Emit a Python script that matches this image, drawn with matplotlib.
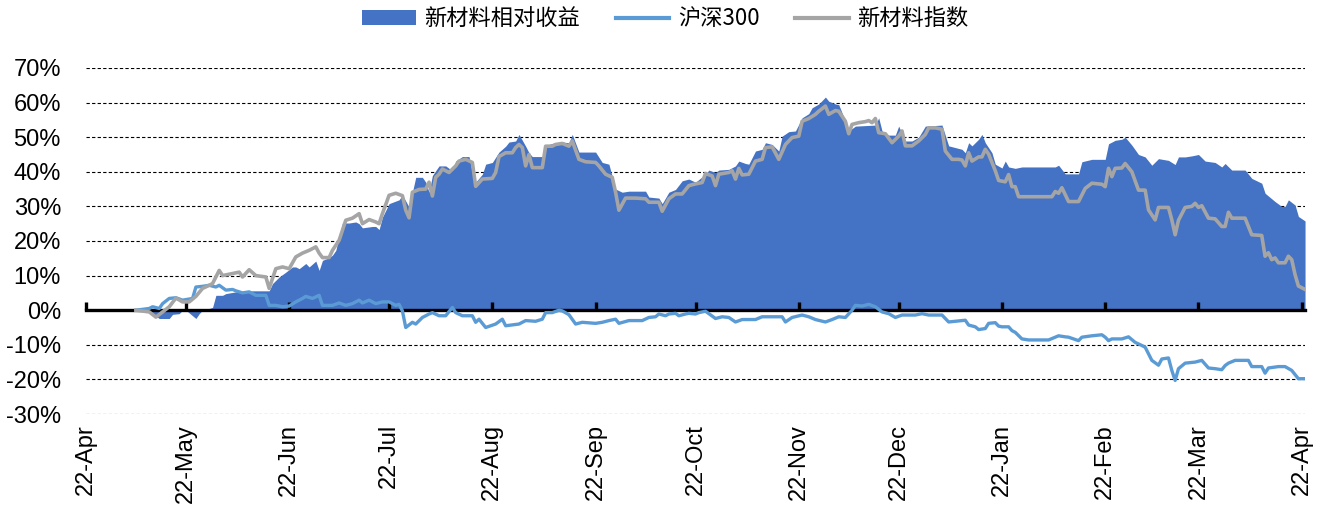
import matplotlib
matplotlib.use('Agg')
import matplotlib.pyplot as plt
import matplotlib.dates as mdates
import matplotlib.ticker as mticker
from matplotlib.patches import Patch
from matplotlib.lines import Line2D
import pandas as pd

plt.rcParams['font.family'] = ['Liberation Sans', 'Noto Sans CJK SC']

# 新材料相对收益 (%)
rel_dates = [
    "2022-05-07", "2022-05-10", "2022-05-12", "2022-05-14", "2022-05-17", "2022-05-18", "2022-05-20",
    "2022-05-21", "2022-05-22", "2022-05-23", "2022-05-25", "2022-05-26", "2022-05-27", "2022-05-29",
    "2022-05-30", "2022-05-31", "2022-06-02", "2022-06-03", "2022-06-06", "2022-06-11", "2022-06-16",
    "2022-06-17", "2022-06-19", "2022-06-21", "2022-06-23", "2022-06-24", "2022-06-25", "2022-06-27",
    "2022-06-28", "2022-06-30", "2022-07-01", "2022-07-02", "2022-07-04", "2022-07-05", "2022-07-06",
    "2022-07-08", "2022-07-10", "2022-07-12", "2022-07-13", "2022-07-14", "2022-07-17", "2022-07-18",
    "2022-07-19", "2022-07-20", "2022-07-22", "2022-07-25", "2022-07-26", "2022-07-28", "2022-07-29",
    "2022-07-30", "2022-08-01", "2022-08-02", "2022-08-03", "2022-08-04", "2022-08-06", "2022-08-08",
    "2022-08-10", "2022-08-11", "2022-08-13", "2022-08-15", "2022-08-16", "2022-08-17", "2022-08-19",
    "2022-08-20", "2022-08-22", "2022-08-24", "2022-08-26", "2022-08-27", "2022-08-29", "2022-08-30",
    "2022-09-01", "2022-09-02", "2022-09-03", "2022-09-06", "2022-09-07", "2022-09-09", "2022-09-12",
    "2022-09-14", "2022-09-15", "2022-09-17", "2022-09-22", "2022-09-24", "2022-09-26", "2022-09-28",
    "2022-09-30", "2022-10-02", "2022-10-07", "2022-10-08", "2022-10-11", "2022-10-12", "2022-10-14",
    "2022-10-16", "2022-10-18", "2022-10-20", "2022-10-22", "2022-10-25", "2022-10-26", "2022-10-28",
    "2022-10-29", "2022-11-01", "2022-11-03", "2022-11-04", "2022-11-06", "2022-11-07", "2022-11-09",
    "2022-11-11", "2022-11-12", "2022-11-14", "2022-11-16", "2022-11-17", "2022-11-19", "2022-11-21",
    "2022-11-23", "2022-11-25", "2022-11-26", "2022-11-28", "2022-11-30", "2022-12-01", "2022-12-03",
    "2022-12-04", "2022-12-06", "2022-12-07", "2022-12-09", "2022-12-15", "2022-12-16", "2022-12-17",
    "2022-12-19", "2022-12-21", "2022-12-22", "2022-12-24", "2022-12-26", "2022-12-28", "2022-12-30",
    "2023-01-04", "2023-01-06", "2023-01-08", "2023-01-10", "2023-01-11", "2023-01-12", "2023-01-13",
    "2023-01-15", "2023-01-16", "2023-01-17", "2023-01-19", "2023-01-20", "2023-01-22", "2023-01-23",
    "2023-01-24", "2023-01-26", "2023-01-28", "2023-02-07", "2023-02-08", "2023-02-10", "2023-02-14",
    "2023-02-15", "2023-02-18", "2023-02-22", "2023-02-23", "2023-02-25", "2023-02-27", "2023-02-28",
    "2023-03-02", "2023-03-04", "2023-03-06", "2023-03-08", "2023-03-10", "2023-03-13", "2023-03-15",
    "2023-03-16", "2023-03-18", "2023-03-20", "2023-03-22", "2023-03-24", "2023-03-27", "2023-03-29",
    "2023-03-30", "2023-04-01", "2023-04-05", "2023-04-07", "2023-04-10", "2023-04-11", "2023-04-14",
    "2023-04-16", "2023-04-17", "2023-04-18", "2023-04-20", "2023-04-21", "2023-04-23",
]
rel_vals = [
    0, 0, -1, -2.4, -2.4, -1.2, -1,
    0, 0, -0.8, -2.4, -1, 0, 0.5,
    0.8, 4.3, 4.3, 4.8, 5.3, 5.6, 5.6,
    7.7, 9.6, 11, 12.5, 12.5, 12, 13.5,
    12.5, 14.2, 11.5, 14.4, 15.2, 15.9, 17.3,
    25.2, 25.2, 25.5, 25, 23.8, 24.2, 24.2,
    23.3, 26.9, 30.8, 31.9, 33.3, 29.8, 34.1,
    38.4, 38.4, 37, 34.1, 38.9, 41.7, 41.7,
    40.3, 43.1, 44.4, 44.4, 39.8, 37, 39.3,
    42.2, 42.7, 45.7, 47.4, 48.6, 48.9, 50.8,
    47.4, 45.5, 44.4, 44.4, 47.6, 48.2, 48.6,
    48.4, 50.8, 45.7, 45.7, 42.7, 42.2, 35,
    34.1, 34.4, 34.4, 32.7, 32.4, 30.8, 34.1,
    34.9, 37.4, 37.9, 37, 39.3, 40.5, 39.8,
    40.5, 40.7, 41.7, 43.1, 42.4, 42.2, 46,
    46.5, 48.4, 47.9, 46, 50.3, 51.6, 51.8,
    55.6, 56.8, 58.5, 59.6, 61.6, 60.4, 59.6,
    59.4, 54.6, 51.8, 53.2, 53.5, 55.6, 51.8,
    50.6, 50.6, 53.2, 48.9, 48.9, 50, 53.2,
    53.5, 47.5, 47, 46.5, 45.5, 48.4, 47.5,
    49.4, 50.8, 48.4, 45.5, 42.2, 41.1, 43.1,
    41.4, 41, 41.4, 41.4, 41.9, 39.4, 39.4,
    42.9, 43.6, 43.6, 48.1, 49.1, 49.4, 50,
    47.7, 45, 44.3, 41.9, 43.8, 43.3, 42.1,
    44.3, 44.3, 44.6, 45, 43.1, 42.7, 41.4,
    42.4, 40.5, 40.5, 38.1, 36.7, 33.8, 31.4,
    30, 30, 31.9, 30.4, 27.1, 25.8,
]

# 沪深300 (%)
hs_dates = [
    "2022-05-07", "2022-05-11", "2022-05-12", "2022-05-14", "2022-05-15", "2022-05-17", "2022-05-19",
    "2022-05-21", "2022-05-24", "2022-05-25", "2022-05-27", "2022-05-29", "2022-05-31", "2022-06-01",
    "2022-06-03", "2022-06-05", "2022-06-06", "2022-06-08", "2022-06-10", "2022-06-12", "2022-06-15",
    "2022-06-16", "2022-06-18", "2022-06-20", "2022-06-22", "2022-06-24", "2022-06-26", "2022-06-27",
    "2022-06-29", "2022-07-01", "2022-07-02", "2022-07-05", "2022-07-07", "2022-07-09", "2022-07-11",
    "2022-07-13", "2022-07-14", "2022-07-16", "2022-07-18", "2022-07-20", "2022-07-22", "2022-07-23",
    "2022-07-24", "2022-07-25", "2022-07-26", "2022-07-27", "2022-07-29", "2022-07-30", "2022-08-01",
    "2022-08-03", "2022-08-04", "2022-08-06", "2022-08-08", "2022-08-10", "2022-08-11", "2022-08-13",
    "2022-08-16", "2022-08-17", "2022-08-18", "2022-08-20", "2022-08-23", "2022-08-25", "2022-08-26",
    "2022-08-30", "2022-09-01", "2022-09-04", "2022-09-06", "2022-09-07", "2022-09-09", "2022-09-11",
    "2022-09-12", "2022-09-14", "2022-09-16", "2022-09-18", "2022-09-22", "2022-09-24", "2022-09-26",
    "2022-09-28", "2022-09-29", "2022-10-02", "2022-10-06", "2022-10-08", "2022-10-10", "2022-10-11",
    "2022-10-13", "2022-10-14", "2022-10-16", "2022-10-17", "2022-10-19", "2022-10-20", "2022-10-22",
    "2022-10-23", "2022-10-25", "2022-10-26", "2022-10-28", "2022-10-30", "2022-11-01", "2022-11-03",
    "2022-11-05", "2022-11-09", "2022-11-11", "2022-11-17", "2022-11-18", "2022-11-20", "2022-11-23",
    "2022-11-25", "2022-11-27", "2022-11-30", "2022-12-02", "2022-12-04", "2022-12-06", "2022-12-08",
    "2022-12-09", "2022-12-11", "2022-12-13", "2022-12-15", "2022-12-17", "2022-12-19", "2022-12-21",
    "2022-12-23", "2022-12-27", "2022-12-29", "2022-12-31", "2023-01-04", "2023-01-06", "2023-01-09",
    "2023-01-11", "2023-01-12", "2023-01-14", "2023-01-15", "2023-01-17", "2023-01-18", "2023-01-20",
    "2023-01-21", "2023-01-22", "2023-01-24", "2023-01-25", "2023-01-26", "2023-01-28", "2023-01-30",
    "2023-02-05", "2023-02-07", "2023-02-08", "2023-02-10", "2023-02-11", "2023-02-14", "2023-02-15",
    "2023-02-18", "2023-02-21", "2023-02-22", "2023-02-23", "2023-02-24", "2023-02-27", "2023-03-01",
    "2023-03-03", "2023-03-05", "2023-03-06", "2023-03-08", "2023-03-10", "2023-03-11", "2023-03-13",
    "2023-03-14", "2023-03-15", "2023-03-16", "2023-03-18", "2023-03-21", "2023-03-23", "2023-03-25",
    "2023-03-27", "2023-03-29", "2023-03-30", "2023-03-31", "2023-04-02", "2023-04-06", "2023-04-07",
    "2023-04-10", "2023-04-11", "2023-04-12", "2023-04-15", "2023-04-17", "2023-04-19", "2023-04-21",
    "2023-04-23",
]
hs_vals = [
    0, 0.5, 1, 0.5, 1.9, 3.4, 3.6,
    2.9, 3.4, 6.7, 6.9, 7.2, 6.7, 7.2,
    5.8, 6, 5.6, 5, 5.3, 4.3, 4.3,
    1.4, 1.4, 1, 1.2, 2.4, 3.4, 4,
    3.4, 4.3, 1.4, 1.4, 2.1, 1.4, 1.9,
    2.9, 2.1, 2.9, 1.9, 2.4, 2.4, 1.9,
    1.4, 1.7, -0.2, -5, -3.5, -4, -2.1,
    -1.1, -0.7, -1.6, -1.6, 0.8, -0.7, -1.6,
    -1.6, -3.5, -2.6, -5, -4, -2.6, -4.5,
    -4, -3, -3.2, -2.6, -0.7, -0.7, 0,
    -0.2, -1.3, -4, -3.5, -3.8, -3.5, -3,
    -2.6, -3.8, -3, -3, -2.1, -1.9, -1.1,
    -1.6, -1.1, -0.9, -1.6, -1.1, -0.9, -1.1,
    -0.7, -0.3, -1, -2.4, -1.9, -2.1, -3.4,
    -2.7, -2.7, -1.9, -1.9, -3.4, -2.1, -1.4,
    -1.9, -2.7, -3.4, -2.7, -1.9, -2.1, 0,
    1.4, 1.2, 1.7, 1, -0.5, -1, -2.1,
    -1.4, -1.4, -1, -1.4, -1.4, -3.4, -3.1,
    -2.9, -4.3, -4.8, -5.6, -5.3, -3.8, -3.6,
    -4.6, -4.8, -4.8, -5.9, -6.4, -8.3, -8.6,
    -8.6, -7.8, -7.4, -7.7, -7.8, -8.8, -7.8,
    -7.4, -7.1, -7.8, -8.8, -8.3, -8.3, -7.7,
    -9.3, -10.2, -10.7, -14.5, -15.9, -14.1, -13.8,
    -17.4, -20.3, -16.9, -15.3, -15, -14.5, -16.7,
    -16.9, -17.2, -16, -15.3, -14.5, -14.5, -16.3,
    -16.3, -18.2, -16.7, -16.3, -16.3, -17.4, -19.8,
    -19.8,
]

# 新材料指数 (%)
idx_dates = [
    "2022-05-07", "2022-05-11", "2022-05-13", "2022-05-15", "2022-05-17", "2022-05-19", "2022-05-21",
    "2022-05-23", "2022-05-25", "2022-05-27", "2022-05-29", "2022-05-30", "2022-06-01", "2022-06-02",
    "2022-06-05", "2022-06-07", "2022-06-08", "2022-06-10", "2022-06-12", "2022-06-15", "2022-06-16",
    "2022-06-18", "2022-06-20", "2022-06-22", "2022-06-24", "2022-06-26", "2022-06-28", "2022-06-30",
    "2022-07-01", "2022-07-02", "2022-07-04", "2022-07-05", "2022-07-07", "2022-07-09", "2022-07-11",
    "2022-07-13", "2022-07-14", "2022-07-16", "2022-07-18", "2022-07-19", "2022-07-20", "2022-07-22",
    "2022-07-24", "2022-07-26", "2022-07-27", "2022-07-28", "2022-07-29", "2022-07-31", "2022-08-02",
    "2022-08-03", "2022-08-04", "2022-08-05", "2022-08-06", "2022-08-07", "2022-08-09", "2022-08-11",
    "2022-08-12", "2022-08-14", "2022-08-16", "2022-08-17", "2022-08-19", "2022-08-22", "2022-08-23",
    "2022-08-24", "2022-08-26", "2022-08-28", "2022-08-29", "2022-08-30", "2022-08-31", "2022-09-01",
    "2022-09-02", "2022-09-03", "2022-09-06", "2022-09-07", "2022-09-09", "2022-09-10", "2022-09-12",
    "2022-09-14", "2022-09-15", "2022-09-17", "2022-09-19", "2022-09-22", "2022-09-23", "2022-09-25",
    "2022-09-27", "2022-09-28", "2022-09-29", "2022-10-01", "2022-10-04", "2022-10-07", "2022-10-08",
    "2022-10-11", "2022-10-12", "2022-10-14", "2022-10-16", "2022-10-18", "2022-10-20", "2022-10-22",
    "2022-10-24", "2022-10-25", "2022-10-27", "2022-10-28", "2022-10-29", "2022-11-01", "2022-11-02",
    "2022-11-03", "2022-11-04", "2022-11-05", "2022-11-07", "2022-11-09", "2022-11-11", "2022-11-12",
    "2022-11-14", "2022-11-16", "2022-11-18", "2022-11-20", "2022-11-22", "2022-11-23", "2022-11-25",
    "2022-11-27", "2022-11-28", "2022-11-30", "2022-12-01", "2022-12-03", "2022-12-04", "2022-12-06",
    "2022-12-07", "2022-12-08", "2022-12-10", "2022-12-12", "2022-12-13", "2022-12-14", "2022-12-15",
    "2022-12-16", "2022-12-18", "2022-12-20", "2022-12-22", "2022-12-23", "2022-12-24", "2022-12-26",
    "2022-12-28", "2022-12-30", "2022-12-31", "2023-01-02", "2023-01-04", "2023-01-05", "2023-01-07",
    "2023-01-09", "2023-01-10", "2023-01-11", "2023-01-12", "2023-01-13", "2023-01-15", "2023-01-16",
    "2023-01-17", "2023-01-18", "2023-01-20", "2023-01-21", "2023-01-23", "2023-01-24", "2023-01-25",
    "2023-01-26", "2023-01-27", "2023-02-06", "2023-02-07", "2023-02-08", "2023-02-09", "2023-02-11",
    "2023-02-14", "2023-02-16", "2023-02-18", "2023-02-21", "2023-02-22", "2023-02-23", "2023-02-24",
    "2023-02-25", "2023-02-27", "2023-02-28", "2023-03-02", "2023-03-04", "2023-03-06", "2023-03-07",
    "2023-03-09", "2023-03-10", "2023-03-13", "2023-03-14", "2023-03-15", "2023-03-16", "2023-03-18",
    "2023-03-20", "2023-03-21", "2023-03-22", "2023-03-23", "2023-03-25", "2023-03-27", "2023-03-29",
    "2023-03-30", "2023-03-31", "2023-04-01", "2023-04-05", "2023-04-07", "2023-04-10", "2023-04-11",
    "2023-04-12", "2023-04-13", "2023-04-14", "2023-04-15", "2023-04-17", "2023-04-18", "2023-04-19",
    "2023-04-20", "2023-04-21", "2023-04-23",
]
idx_vals = [
    0, -0.5, -2, -0.5, 1, 3.5, 2.4,
    2.4, 4, 6.3, 7.2, 7.7, 11.5, 10,
    10.6, 11, 9.6, 11.7, 10, 9.6, 6.3,
    12, 12.5, 12, 15.4, 16.5, 17.3, 18.3,
    16.5, 15.2, 15.2, 17.3, 20.2, 26, 26.6,
    27.9, 25, 26.2, 25.5, 25, 27.9, 33.2,
    33.8, 33.1, 28.9, 26.7, 34.1, 34.9, 35,
    37, 33, 38.4, 39.3, 40.8, 39.8, 41.7,
    43.1, 43.6, 42.7, 35.8, 37.9, 38.1, 39.8,
    44.4, 45.5, 45.5, 47, 47.9, 47, 41.7,
    45, 41.2, 41.2, 47.4, 47.4, 47.9, 48.2,
    47.4, 48.9, 43.6, 42.9, 42.7, 41.7, 39.3,
    38.4, 34.1, 28.9, 32.4, 32.4, 32.2, 31.2,
    31.2, 28.6, 32.2, 33.6, 33.6, 36, 36.5,
    36.9, 39.5, 38.8, 36, 39.3, 39.8, 40.3,
    37.9, 41, 39.1, 39.3, 43.1, 43.6, 47,
    47.2, 43.6, 47.9, 49.9, 50.3, 54.6, 55.4,
    56.6, 57.5, 59, 56.6, 57.7, 57.5, 54.6,
    51, 53.7, 54.2, 54.5, 54.8, 54.2, 55.4,
    51.3, 51, 48.4, 50.3, 51.8, 47.5, 47.5,
    48.9, 50.8, 52.7, 52.7, 52.3, 46, 43.6,
    43.6, 43.4, 41.7, 45.5, 43.1, 44.3, 44.3,
    46.5, 45.1, 40.3, 37.5, 37.1, 39.2, 35.7,
    35.7, 32.8, 32.8, 34.3, 33.8, 35.4, 31.4,
    31.4, 35.2, 36.7, 36.4, 35.7, 41, 38.6,
    41, 41.1, 42.4, 40, 34.7, 34.7, 29,
    26.1, 29.7, 29.7, 26.1, 21.8, 26, 29.7,
    30, 30.9, 29.7, 30.2, 26.6, 26.4, 24.2,
    24.2, 28.3, 26.6, 26.6, 21.8, 21.6, 15.6,
    16.6, 14.6, 15.1, 13.7, 13.7, 15.6, 14.6,
    10.3, 7, 6,
]

labels = ["新材料相对收益", "沪深300", "新材料指数"]
colors = ["#4472C4", "#5B9BD5", "#A5A5A5"]

rel_x = pd.to_datetime(rel_dates)
hs_x = pd.to_datetime(hs_dates)
idx_x = pd.to_datetime(idx_dates)

fig = plt.figure(figsize=(13.31, 5.12), dpi=100)
ax = fig.add_axes([0.0646, 0.1914, 0.9159, 0.6758])

ax.fill_between(rel_x, 0, rel_vals, color=colors[0], lw=0, zorder=1)
ax.plot(hs_x, hs_vals, color=colors[1], lw=2.4, zorder=3)
ax.plot(idx_x, idx_vals, color=colors[2], lw=2.6, zorder=3)

ax.set_ylim(-30, 70)
yticks = list(range(-30, 71, 10))
ax.set_yticks(yticks)
ax.yaxis.set_major_formatter(mticker.FuncFormatter(lambda v, p: f"{v:.0f}%"))
for v in yticks:
    if v != 0:
        ax.axhline(v, color="black", lw=0.8, ls=(0, (3, 2)), zorder=0.5)

ax.set_xlim(pd.Timestamp("2022-04-22"), pd.Timestamp("2023-04-23"))
xticks = pd.date_range("2022-04-22", "2023-04-22", freq=pd.DateOffset(months=1))
ax.set_xticks(xticks)
ax.xaxis.set_major_formatter(mdates.DateFormatter("%d-%b"))

for s in ["left", "right", "top"]:
    ax.spines[s].set_visible(False)
ax.spines["bottom"].set_position(("data", 0))
ax.spines["bottom"].set_linewidth(2.4)
ax.tick_params(axis="x", direction="in", length=6, width=2.4, pad=82,
               labelsize=17, labelrotation=90)
ax.tick_params(axis="y", length=0, labelsize=17, pad=18)

handles = [Patch(facecolor=colors[0], edgecolor="none"),
           Line2D([], [], color=colors[1], lw=3),
           Line2D([], [], color=colors[2], lw=3)]
fig.legend(handles, labels, loc="center", bbox_to_anchor=(0.5, 0.963), ncol=3,
           frameon=False, prop={"family": ["Noto Sans CJK SC", "DejaVu Sans"], "size": 16},
           handlelength=2.4, handletextpad=0.4, columnspacing=1.6)

fig.savefig("out.png", dpi=100)
